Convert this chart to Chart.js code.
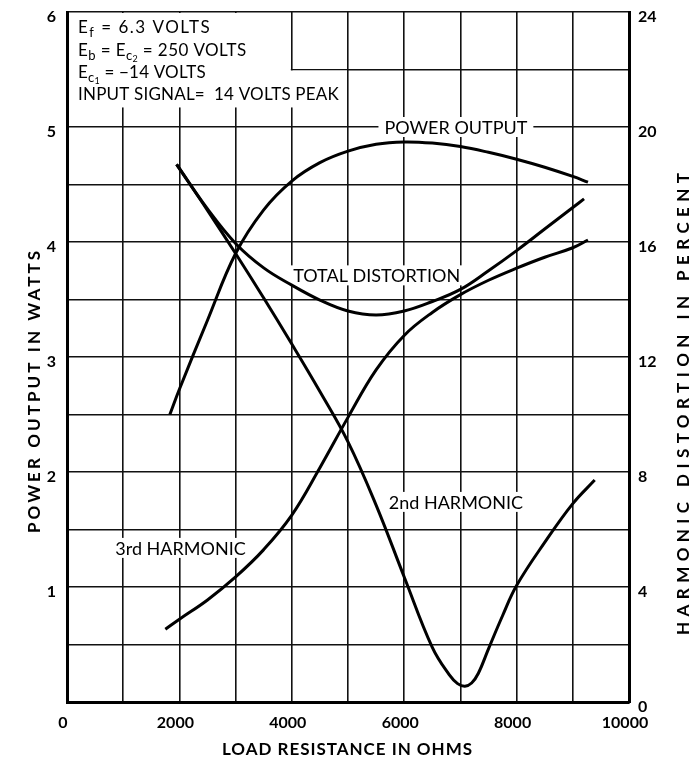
<!DOCTYPE html>
<html lang="en">
<head>
    <meta charset="UTF-8">
    <title>Power Output and Distortion vs Load Resistance</title>
    <style>
        html, body { margin: 0; padding: 0; background: #fff; }
        .chart-container { width: 696px; height: 766px; }
    </style>
    <script src="https://cdn.jsdelivr.net/npm/chart.js"></script>
</head>
<body>
    <div class="chart-container">
        <canvas id="tubeChart" width="696" height="766"></canvas>
    </div>

    <script>
        // Load resistance (ohms) and readings, one pair of arrays per curve
        const powerOhms  = [1830, 2000, 2500, 3000, 3500, 4000, 4500, 5000, 5500, 6000, 6500, 7000, 7500, 8000, 8500, 9000, 9270];
        const powerWatts = [2.50, 2.72, 3.32, 3.90, 4.28, 4.53, 4.69, 4.79, 4.85, 4.87, 4.86, 4.83, 4.78, 4.72, 4.65, 4.57, 4.52];

        const totalOhms = [1950, 2500, 3000, 3500, 4000, 4500, 5000, 5500, 6000, 6500, 7000, 7500, 8000, 8500, 9000, 9200];
        const totalPct  = [18.7, 17.15, 15.95, 15.1, 14.5, 13.98, 13.6, 13.46, 13.6, 13.93, 14.35, 15.0, 15.7, 16.45, 17.2, 17.5];

        const secondOhms = [1950, 2500, 3000, 3500, 4000, 4500, 5000, 5500, 6000, 6500, 6800, 6950, 7080, 7200, 7320, 7500, 7750, 8000, 8500, 9000, 9390];
        const secondPct  = [18.7, 17.1, 15.6, 14.05, 12.45, 10.8, 9.05, 6.85, 4.35, 1.9, 0.95, 0.64, 0.55, 0.66, 1.0, 1.85, 3.0, 4.05, 5.55, 6.9, 7.72];

        const thirdOhms = [1750, 2000, 2500, 3000, 3500, 4000, 4500, 5000, 5500, 6000, 6500, 7000, 7500, 8000, 8500, 9000, 9270];
        const thirdPct  = [2.53, 2.88, 3.55, 4.35, 5.3, 6.5, 8.15, 9.9, 11.55, 12.75, 13.55, 14.17, 14.67, 15.09, 15.47, 15.8, 16.07];

        // axis ranges and labelled ticks
        const ohmLabels  = [0, 2000, 4000, 6000, 8000, 10000];
        const wattLabels = [1, 2, 3, 4, 5, 6];
        const pctLabels  = [0, 4, 8, 12, 16, 20, 24];

        // operating conditions (text pieces, 'sub' = subscript)
        const conditions = [
            [['E'], ['f', 'sub'], [' = 6.3 VOLTS']],
            [['E'], ['b', 'sub'], [' = E'], ['c', 'sub'], ['2', 'sub2'], [' = 250 VOLTS']],
            [['E'], ['c', 'sub'], ['1', 'sub2'], [' = \u221214 VOLTS']],
            [['INPUT SIGNAL=  14 VOLTS PEAK']]
        ];

        // curve names, placed in load-resistance / watt coordinates
        const curveNames = [
            { text: 'POWER OUTPUT', x: 6920, y: 5.0 },
            { text: 'TOTAL DISTORTION', x: 5510, y: 3.71 },
            { text: '2nd HARMONIC', x: 6920, y: 1.74 },
            { text: '3rd HARMONIC', x: 2020, y: 1.34 }
        ];

        const FONT = 'Lato, "DejaVu Sans", sans-serif';

        function pairs(xs, ys) {
            return xs.map((x, i) => ({ x: x, y: ys[i] }));
        }

        function drawSpaced(ctx, text, cx, cy, size, weight, target) {
            ctx.font = weight + ' ' + size + 'px ' + FONT;
            ctx.letterSpacing = '0px';
            const w = ctx.measureText(text).width;
            const extra = Math.max(0, (target - w) / (text.length - 1));
            ctx.letterSpacing = extra + 'px';
            ctx.textAlign = 'center';
            ctx.textBaseline = 'middle';
            ctx.fillText(text, cx + extra / 2, cy);
            ctx.letterSpacing = '0px';
        }

        const notesPlugin = {
            id: 'notes',
            beforeDatasetsDraw(chart) {
                const ctx = chart.ctx;
                const xs = chart.scales.x, ys = chart.scales.y;
                const area = chart.chartArea;
                ctx.save();

                // blank the grid behind the operating conditions
                ctx.fillStyle = '#fff';
                ctx.fillRect(area.left + 2, area.top + 1, xs.getPixelForValue(4000) - area.left - 3, ys.getPixelForValue(5.17) - area.top - 1);
                ctx.fillRect(xs.getPixelForValue(4000) - 2, ys.getPixelForValue(5.5) + 1, xs.getPixelForValue(5000) - xs.getPixelForValue(4000) + 1, ys.getPixelForValue(5.17) - ys.getPixelForValue(5.5) - 1);

                ctx.fillStyle = '#000';
                ctx.textBaseline = 'middle';
                ctx.textAlign = 'left';
                const lineY = [28, 51, 73, 95];
                const spacing = [1.5, 0.4, 0.2, 0.2];
                conditions.forEach((parts, i) => {
                    let x = area.left + 11;
                    ctx.letterSpacing = spacing[i] + 'px';
                    parts.forEach(p => {
                        let size = 17, dy = 0;
                        if (p[1] === 'sub') { size = 13; dy = 5; }
                        if (p[1] === 'sub2') { size = 9; dy = 8; }
                        ctx.font = size + 'px ' + FONT;
                        ctx.fillText(p[0], x, lineY[i] + dy);
                        x += ctx.measureText(p[0]).width;
                    });
                });
                ctx.letterSpacing = '0px';

                // curve names on white patches
                ctx.font = '18px ' + FONT;
                ctx.textAlign = 'center';
                curveNames.forEach(n => {
                    const px = xs.getPixelForValue(n.x);
                    const py = ys.getPixelForValue(n.y);
                    const w = ctx.measureText(n.text).width;
                    ctx.fillStyle = '#fff';
                    ctx.fillRect(px - w / 2 - 6, py - 10, w + 12, 20);
                    ctx.fillStyle = '#000';
                    ctx.fillText(n.text, px, py + 1);
                });
                ctx.restore();
            },
            afterDraw(chart) {
                const ctx = chart.ctx;
                ctx.save();
                ctx.fillStyle = '#000';
                drawSpaced(ctx, 'LOAD RESISTANCE IN OHMS', 347, 750, 17, 'bold', 250);

                ctx.translate(35, 392);
                ctx.rotate(-Math.PI / 2);
                drawSpaced(ctx, 'POWER OUTPUT IN WATTS', 0, 0, 17, 'bold', 282);
                ctx.restore();

                ctx.save();
                ctx.fillStyle = '#000';
                ctx.translate(684, 404);
                ctx.rotate(-Math.PI / 2);
                drawSpaced(ctx, 'HARMONIC DISTORTION IN PERCENT', 0, 0, 17, 'bold', 462);
                ctx.restore();
            }
        };

        const lineStyle = {
            borderColor: '#000',
            borderWidth: 3,
            pointRadius: 0,
            fill: false,
            tension: 0.4
        };

        const tickFont = { family: FONT, size: 16, weight: 'bold' };

        // drop the padding Chart.js reserves for the end tick labels
        function fixWidth(w) {
            return s => { s.width = w; s.paddingTop = 0; s.paddingBottom = 0; };
        }

        const ctx = document.getElementById('tubeChart').getContext('2d');
        new Chart(ctx, {
            type: 'line',
            data: {
                datasets: [
                    Object.assign({ label: 'Power output', data: pairs(powerOhms, powerWatts), yAxisID: 'y' }, lineStyle),
                    Object.assign({ label: 'Total distortion', data: pairs(totalOhms, totalPct), yAxisID: 'y2' }, lineStyle),
                    Object.assign({ label: '2nd harmonic', data: pairs(secondOhms, secondPct), yAxisID: 'y2' }, lineStyle),
                    Object.assign({ label: '3rd harmonic', data: pairs(thirdOhms, thirdPct), yAxisID: 'y2' }, lineStyle)
                ]
            },
            options: {
                responsive: false,
                animation: false,
                devicePixelRatio: 1,
                layout: { padding: { top: 12, left: 0, right: 0, bottom: 0 } },
                plugins: {
                    legend: { display: false },
                    tooltip: { enabled: false }
                },
                scales: {
                    x: {
                        type: 'linear',
                        min: 0,
                        max: 10000,
                        ticks: {
                            stepSize: 1000,
                            autoSkip: false,
                            maxRotation: 0,
                            padding: 11,
                            labelOffset: -4,
                            color: '#000',
                            font: tickFont,
                            callback: v => ohmLabels.includes(v) ? String(v) : ''
                        },
                        grid: { color: '#111', lineWidth: 1.6, drawTicks: false },
                        border: { color: '#000', width: 3 },
                        afterFit: s => { s.height = 64; s.paddingLeft = 0; s.paddingRight = 0; }
                    },
                    y: {
                        position: 'left',
                        min: 0,
                        max: 6,
                        ticks: {
                            stepSize: 0.5,
                            autoSkip: false,
                            padding: 11,
                            labelOffset: 5,
                            color: '#000',
                            font: tickFont,
                            callback: v => wattLabels.includes(v) ? String(v) : ''
                        },
                        grid: { color: '#111', lineWidth: 1.6, drawTicks: false },
                        border: { color: '#000', width: 3 },
                        afterFit: fixWidth(67)
                    },
                    y2: {
                        position: 'right',
                        min: 0,
                        max: 24,
                        ticks: {
                            stepSize: 2,
                            autoSkip: false,
                            padding: 9,
                            labelOffset: 5,
                            color: '#000',
                            font: tickFont,
                            callback: v => pctLabels.includes(v) ? String(v) : ''
                        },
                        grid: { drawOnChartArea: false, drawTicks: false },
                        border: { color: '#000', width: 3 },
                        afterFit: fixWidth(67)
                    }
                }
            },
            plugins: [notesPlugin]
        });
    </script>
</body>
</html>
